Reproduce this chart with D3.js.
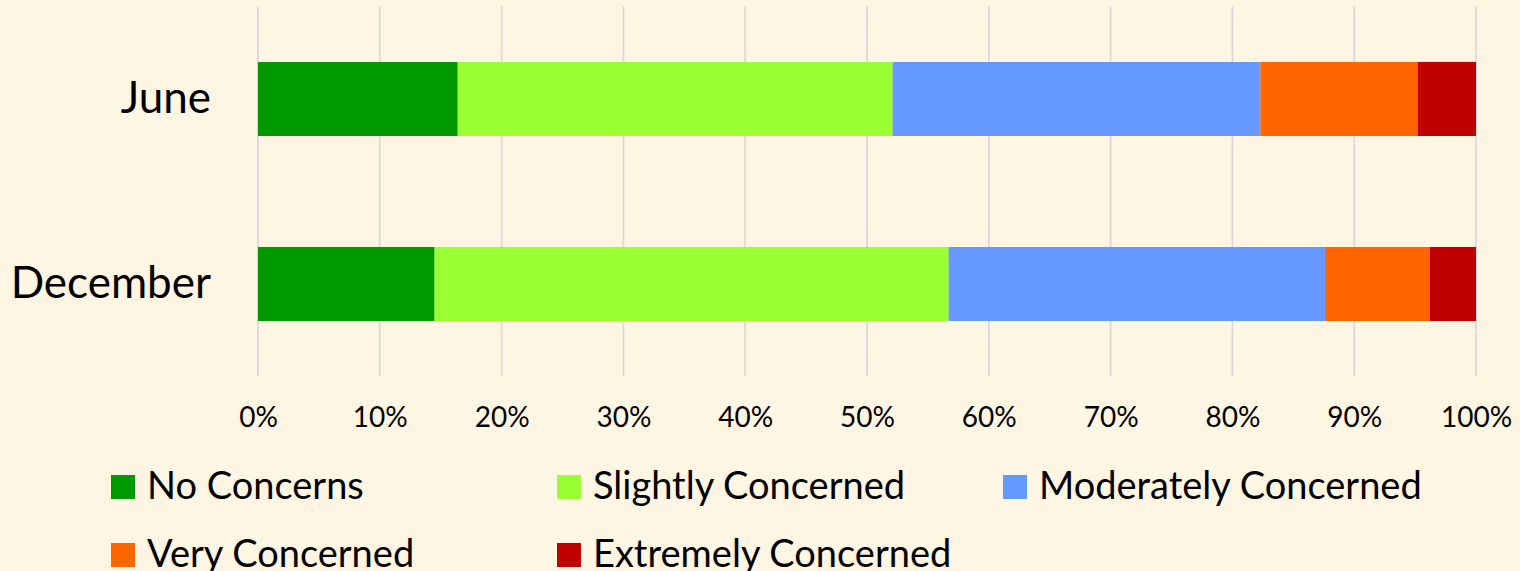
<!DOCTYPE html>
<html>
<head>
<meta charset="utf-8">
<script src="https://cdn.jsdelivr.net/npm/d3@7"></script>
<style>
  body { margin: 0; background: #fff5e3; }
  svg { display: block; font-family: Lato, "Open Sans", sans-serif; }
</style>
</head>
<body>
<script>
const categories = ["June", "December"];
const seriesNames = ["No Concerns", "Slightly Concerned", "Moderately Concerned", "Very Concerned", "Extremely Concerned"];
const seriesColors = ["#009900", "#99ff33", "#6699ff", "#ff6600", "#c00000"];
// share of responses (%) per series, June then December
const noConcerns = [16.4, 14.5];
const slightly = [35.7, 42.2];
const moderately = [30.2, 30.9];
const very = [12.9, 8.6];
const extremely = [4.8, 3.8];
const tickValues = [0, 10, 20, 30, 40, 50, 60, 70, 80, 90, 100];

const values = [noConcerns, slightly, moderately, very, extremely];
const width = 1520, height = 571;

const rows = categories.map((c, i) => {
    let r = { cat: c };
    seriesNames.forEach((s, j) => r[s] = values[j][i]);
    return r;
});
const stacked = d3.stack().keys(seriesNames)(rows);

const x = d3.scaleLinear().domain([0, 100]).range([258, 1476]);
const y = d3.scaleBand().domain(categories).range([6.5, 376.5])
    .paddingInner(0.6).paddingOuter(0.3);

const svg = d3.select("body").append("svg")
    .attr("width", width)
    .attr("height", height);

svg.append("rect").attr("width", width).attr("height", height).attr("fill", "#fff5e3");

// gridlines
svg.append("g")
    .selectAll("line")
    .data(tickValues)
    .join("line")
    .attr("x1", d => x(d)).attr("x2", d => x(d))
    .attr("y1", 6.5).attr("y2", 376.5)
    .attr("stroke", "#d9d9d9")
    .attr("stroke-width", 1.75);

// bars
svg.append("g")
    .selectAll("g")
    .data(stacked)
    .join("g")
    .attr("fill", (d, i) => seriesColors[i])
    .selectAll("rect")
    .data(d => d)
    .join("rect")
    .attr("x", d => x(d[0]))
    .attr("width", d => x(d[1]) - x(d[0]))
    .attr("y", d => y(d.data.cat))
    .attr("height", y.bandwidth());

// x axis labels
const xAxis = svg.append("g")
    .attr("transform", "translate(0,376.5)")
    .call(d3.axisBottom(x).tickValues(tickValues).tickFormat(d => d + "%").tickSize(0).tickPadding(31));
xAxis.select(".domain").remove();
xAxis.selectAll("text")
    .attr("fill", "#000")
    .style("font-size", "28px")
    .style("font-family", "Lato, sans-serif");

// category labels
const yAxis = svg.append("g")
    .attr("transform", "translate(258,0)")
    .call(d3.axisLeft(y).tickSize(0).tickPadding(47));
yAxis.select(".domain").remove();
yAxis.selectAll("text")
    .attr("fill", "#000")
    .style("font-size", "44px")
    .style("font-family", "Lato, sans-serif");

// legend
const legend = svg.append("g");
const item = legend.selectAll("g")
    .data(seriesNames)
    .join("g")
    .attr("transform", (d, i) => `translate(${111 + (i % 3) * 446},${475 + Math.floor(i / 3) * 68})`);
item.append("rect")
    .attr("width", 24).attr("height", 24)
    .attr("fill", (d, i) => seriesColors[i]);
item.append("text")
    .attr("x", 36)
    .attr("y", 24)
    .attr("font-size", 38)
    .text(d => d);
</script>
</body>
</html>
